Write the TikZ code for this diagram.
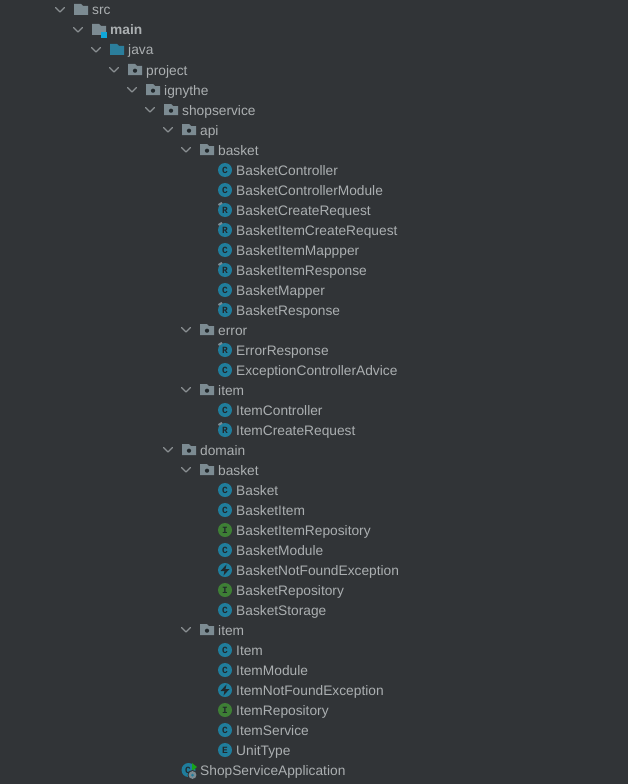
\documentclass[tikz,border=0pt]{standalone}
\usepackage{fontspec}
\setmainfont{Liberation Sans}
\newfontfamily\glyphmono{Liberation Mono}
\definecolor{bg}{HTML}{313437}
\definecolor{txt}{HTML}{ABAFB1}
\definecolor{chevc}{HTML}{8A8F92}
\definecolor{foldg}{HTML}{7C8B92}
\definecolor{foldb}{HTML}{2B7E9C}
\definecolor{mainb}{HTML}{0FA6D8}
\definecolor{classb}{HTML}{1F7D9C}
\definecolor{intg}{HTML}{3E7F35}
\definecolor{dark}{HTML}{22292D}
\tikzset{
  lbl/.style={anchor=base west,inner sep=0pt,text=txt,font=\fontsize{13.75}{15}\selectfont},
  chevron/.style={draw=chevc,line width=1.1pt,line cap=round,line join=round},
  glyph/.style={inner sep=0pt,text=dark,font=\fontsize{9.5}{9.5}\selectfont\glyphmono\bfseries},
}
\newcommand{\foldershape}[3]{%
  \fill[#3] (#1,#2-6) -- (#1+7,#2-6) -- (#1+9,#2-4) -- (#1+14,#2-4)
     -- (#1+14,#2+5) -- (#1,#2+5) -- cycle;}
\newcommand{\rowtree}[5]{% name, level, y, colour, text
  \pgfmathsetmacro{\cx}{60+18*#2}\pgfmathsetmacro{\ix}{74+18*#2}\pgfmathsetmacro{\tx}{92+18*#2}
  \draw[chevron] (\cx-4.5,#3-2.5) -- (\cx,#3+2) -- (\cx+4.5,#3-2.5);
  \foldershape{\ix}{#3}{#4}
  \node[lbl] (#1) at (\tx,#3+5) {#5};}
\newcommand{\rowpkg}[4]{% name, level, y, text
  \rowtree{#1}{#2}{#3}{foldg}{#4}
  \fill[dark] (\ix+7,#3+0.7) circle (2.1);}
\newcommand{\rowitem}[5]{% name, y, colour, letter, text
  \fill[#3] (225,#2) circle (7);
  \node[glyph] (#1i) at (225,#2) {#4};
  \node[lbl] (#1) at (236,#2+5) {#5};}
\newcommand{\rowC}[3]{\rowitem{#1}{#2}{classb}{C}{#3}}
\newcommand{\rowI}[3]{\rowitem{#1}{#2}{intg}{I}{#3}}
\newcommand{\rowE}[3]{\rowitem{#1}{#2}{classb}{E}{#3}}
\newcommand{\rowR}[3]{\rowitem{#1}{#2}{classb}{R}{#3}
  \draw[foldg,line width=2pt] (218.5,#2-5) -- (222,#2-7.2);}
\newcommand{\rowX}[3]{\rowitem{#1}{#2}{classb}{}{#3}
  \fill[dark] (226.5,#2-5.5) -- (220.5,#2+1) -- (224.5,#2+1) -- (223.5,#2+5.5) -- (229.5,#2-1) -- (225.5,#2-1) -- cycle;}
\begin{document}
\begin{tikzpicture}[x=1pt,y=-1pt]
\fill[bg] (0,0) rectangle (628,784);
\useasboundingbox (0,0) rectangle (628,784);
\rowtree{src}{0}{10}{foldg}{src}
\rowtree{main}{1}{30}{foldg}{\textbf{main}}
\fill[mainb] (101,32) rectangle (107,38);
\rowtree{java}{2}{50}{foldb}{java}
\rowpkg{project}{3}{70}{project}
\rowpkg{ignythe}{4}{90}{ignythe}
\rowpkg{shopservice}{5}{110}{shopservice}
\rowpkg{api}{6}{130}{api}
\rowpkg{apibasket}{7}{150}{basket}
\rowC{a}{170}{BasketController}
\rowC{b}{190}{BasketControllerModule}
\rowR{c}{210}{BasketCreateRequest}
\rowR{d}{230}{BasketItemCreateRequest}
\rowC{e}{250}{BasketItemMappper}
\rowR{f}{270}{BasketItemResponse}
\rowC{g}{290}{BasketMapper}
\rowR{h}{310}{BasketResponse}
\rowpkg{error}{7}{330}{error}
\rowR{k}{350}{ErrorResponse}
\rowC{l}{370}{ExceptionControllerAdvice}
\rowpkg{apiitem}{7}{390}{item}
\rowC{m}{410}{ItemController}
\rowR{n}{430}{ItemCreateRequest}
\rowpkg{domain}{6}{450}{domain}
\rowpkg{dombasket}{7}{470}{basket}
\rowC{o}{490}{Basket}
\rowC{p}{510}{BasketItem}
\rowI{q}{530}{BasketItemRepository}
\rowC{r}{550}{BasketModule}
\rowX{s}{570}{BasketNotFoundException}
\rowI{t}{590}{BasketRepository}
\rowC{u}{610}{BasketStorage}
\rowpkg{domitem}{7}{630}{item}
\rowC{v}{650}{Item}
\rowC{w}{670}{ItemModule}
\rowX{x}{690}{ItemNotFoundException}
\rowI{y}{710}{ItemRepository}
\rowC{z}{730}{ItemService}
\rowE{aa}{750}{UnitType}
% application row
\fill[classb] (188.5,770) circle (7);
\node[glyph] (appi) at (188,770) {C};
\fill[green!60!black!90!white] (192,763) -- (197,767) -- (192,771) -- cycle;
\fill[bg] (192.5,775) circle (5);
\fill[foldg] (192.5,775) circle (3.9);
\fill[classb] (192.5,775) circle (1.5);
\node[lbl] (app) at (200,775) {ShopServiceApplication};
\end{tikzpicture}
\end{document}
